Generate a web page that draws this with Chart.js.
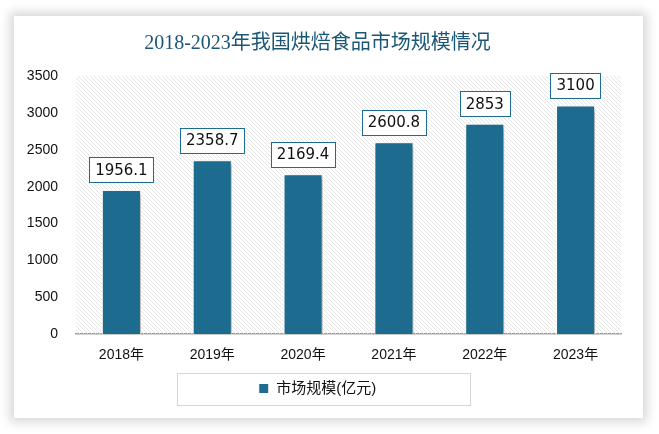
<!DOCTYPE html>
<html>
<head>
<meta charset="utf-8">
<script src="https://cdn.jsdelivr.net/npm/chart.js@4"></script>
<style>
  html, body { margin: 0; padding: 0; background: #fff; }
  #card {
    position: absolute; left: 14px; top: 16px; width: 629px; height: 402px;
    background: #fff; box-shadow: 0 0 10px 4px rgba(0,0,0,0.16);
  }
  canvas { display: block; }
</style>
</head>
<body>
<div id="card"><canvas id="myChart" width="629" height="402"></canvas></div>
<script>
var years = ["2018年", "2019年", "2020年", "2021年", "2022年", "2023年"];
var marketSize = [1956.1, 2358.7, 2169.4, 2600.8, 2853, 3100];
var seriesName = "市场规模(亿元)";
var yTicks = [0, 500, 1000, 1500, 2000, 2500, 3000, 3500];

var barColor = "#1d6b8f";

// diagonal hatch for the plot background
function makeHatch() {
  var c = document.createElement("canvas");
  c.width = 4; c.height = 4;
  var g = c.getContext("2d");
  g.strokeStyle = "#dedede";
  g.lineWidth = 0.8;
  g.beginPath();
  g.moveTo(0, 0); g.lineTo(4, 4);
  g.moveTo(-1, 3); g.lineTo(1, 5);
  g.moveTo(3, -1); g.lineTo(5, 1);
  g.stroke();
  return c;
}

var bgPlugin = {
  id: "hatchBg",
  beforeDatasetsDraw: function(chart) {
    var a = chart.chartArea, ctx = chart.ctx;
    ctx.save();
    ctx.fillStyle = ctx.createPattern(makeHatch(), "repeat");
    ctx.fillRect(a.left, a.top, a.right - a.left, a.bottom - a.top);
    ctx.restore();
  },
  beforeDatasetDraw: function(chart) {
    var ctx = chart.ctx;
    ctx.save();
    ctx.shadowColor = "rgba(0,0,0,0.35)";
    ctx.shadowBlur = 5;
    ctx.shadowOffsetX = 3;
    ctx.shadowOffsetY = 2;
  },
  afterDatasetDraw: function(chart) {
    chart.ctx.restore();
  },
  afterDraw: function(chart) {
    var ctx = chart.ctx;
    var meta = chart.getDatasetMeta(0);
    ctx.save();
    ctx.font = "15px 'DejaVu Sans', sans-serif";
    ctx.textAlign = "center";
    ctx.textBaseline = "middle";
    meta.data.forEach(function(bar, i) {
      var txt = String(chart.data.datasets[0].data[i]);
      var w = ctx.measureText(txt).width + 12;
      var h = 25;
      var cy = bar.y - 20;
      ctx.fillStyle = "#fff";
      ctx.fillRect(bar.x - w / 2, cy - h / 2, w, h);
      ctx.strokeStyle = barColor;
      ctx.lineWidth = 1;
      ctx.strokeRect(Math.round(bar.x - w / 2) + 0.5, Math.round(cy - h / 2) + 0.5, Math.round(w), h);
      ctx.fillStyle = "#111";
      ctx.fillText(txt, bar.x, cy + 1);
    });
    // legend frame
    ctx.strokeStyle = "#d6d6d6";
    ctx.strokeRect(163.5, 357.5, 293, 32);
    ctx.restore();
  }
};

var ctx = document.getElementById("myChart").getContext("2d");
var myChart = new Chart(ctx, {
  type: "bar",
  data: {
    labels: years,
    datasets: [{
      label: seriesName,
      data: marketSize,
      backgroundColor: barColor,
      borderColor: "#ffffff",
      borderWidth: 1,
      categoryPercentage: 0.86,
      barPercentage: 0.5
    }]
  },
  options: {
    responsive: false,
    animation: false,
    layout: { padding: { left: 0, right: 22, top: 0, bottom: 12 } },
    scales: {
      y: {
        min: 0,
        max: 3500,
        afterBuildTicks: function(s) { s.ticks = yTicks.map(function(v) { return { value: v }; }); },
        afterFit: function(s) { s.width = 62; },
        grid: { display: false },
        border: { display: false },
        ticks: {
          color: "#111",
          font: { size: 14, family: "'Liberation Sans', sans-serif" },
          padding: 10,
          callback: function(v) { return String(v); }
        }
      },
      x: {
        grid: { display: false },
        border: { display: true, color: "#a0a0a0", width: 1.5 },
        ticks: { color: "#111", font: { size: 14, family: "'Liberation Sans', 'Noto Sans CJK SC', sans-serif" }, padding: 5 }
      }
    },
    plugins: {
      title: {
        display: true,
        text: "2018-2023年我国烘焙食品市场规模情况",
        color: "#1a5675",
        font: { size: 20, weight: "normal", family: "'Liberation Serif', 'Noto Sans CJK SC', serif" },
        padding: { top: 16, bottom: 20 }
      },
      legend: {
        display: true,
        position: "bottom",
        labels: {
          color: "#111",
          boxWidth: 10,
          boxHeight: 10,
          font: { size: 15, family: "'Liberation Sans', 'Noto Sans CJK SC', sans-serif" },
          padding: 12
        }
      },
      tooltip: { enabled: false }
    }
  },
  plugins: [bgPlugin]
});
</script>
</body>
</html>
